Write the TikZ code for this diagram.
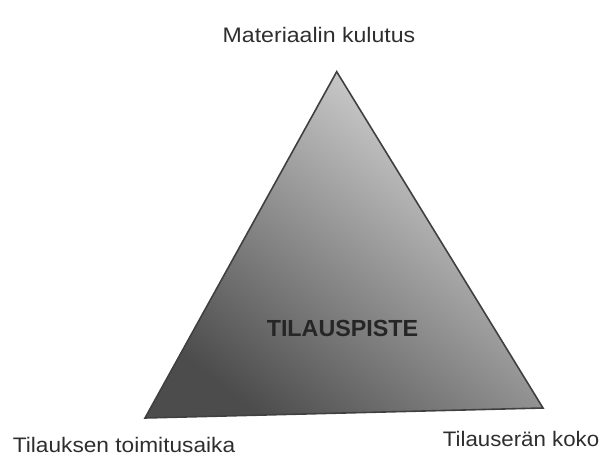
\documentclass[tikz,border=0pt]{standalone}
\usepackage{fontspec}
\setmainfont{Liberation Sans}
\begin{document}
\begin{tikzpicture}[x=1pt,y=1pt,
  lbl/.style={font=\fontsize{21}{24}\selectfont, text=black!82, inner sep=0pt},
  ttl/.style={font=\fontsize{23.3}{26}\selectfont\bfseries, text=black!85, inner sep=0pt}]
\useasboundingbox (0,0) rectangle (604,458);
\coordinate (apex) at (336.7,386.3);
\coordinate (bl) at (145,40);
\coordinate (br) at (543,50);
\shade[shading=axis, top color=black!14, bottom color=black!70, shading angle=-38]
  (apex) -- (bl) -- (br) -- cycle;
\draw[black!75, line width=1.6pt, line join=miter] (apex) -- (bl) -- (br) -- cycle;
\node[lbl, anchor=base] (top) at (319,415) {\scalebox{1.10}[1]{Materiaalin kulutus}};
\node[lbl, anchor=base west] (left) at (12.7,5.5) {\scalebox{1.08}[1]{Tilauksen toimitusaika}};
\node[lbl, anchor=base west] (right) at (442.7,11.3) {\scalebox{1.06}[1]{Tilauserän koko}};
\node[ttl, anchor=base] (mid) at (342.5,121.3) {TILAUSPISTE};
\end{tikzpicture}
\end{document}
